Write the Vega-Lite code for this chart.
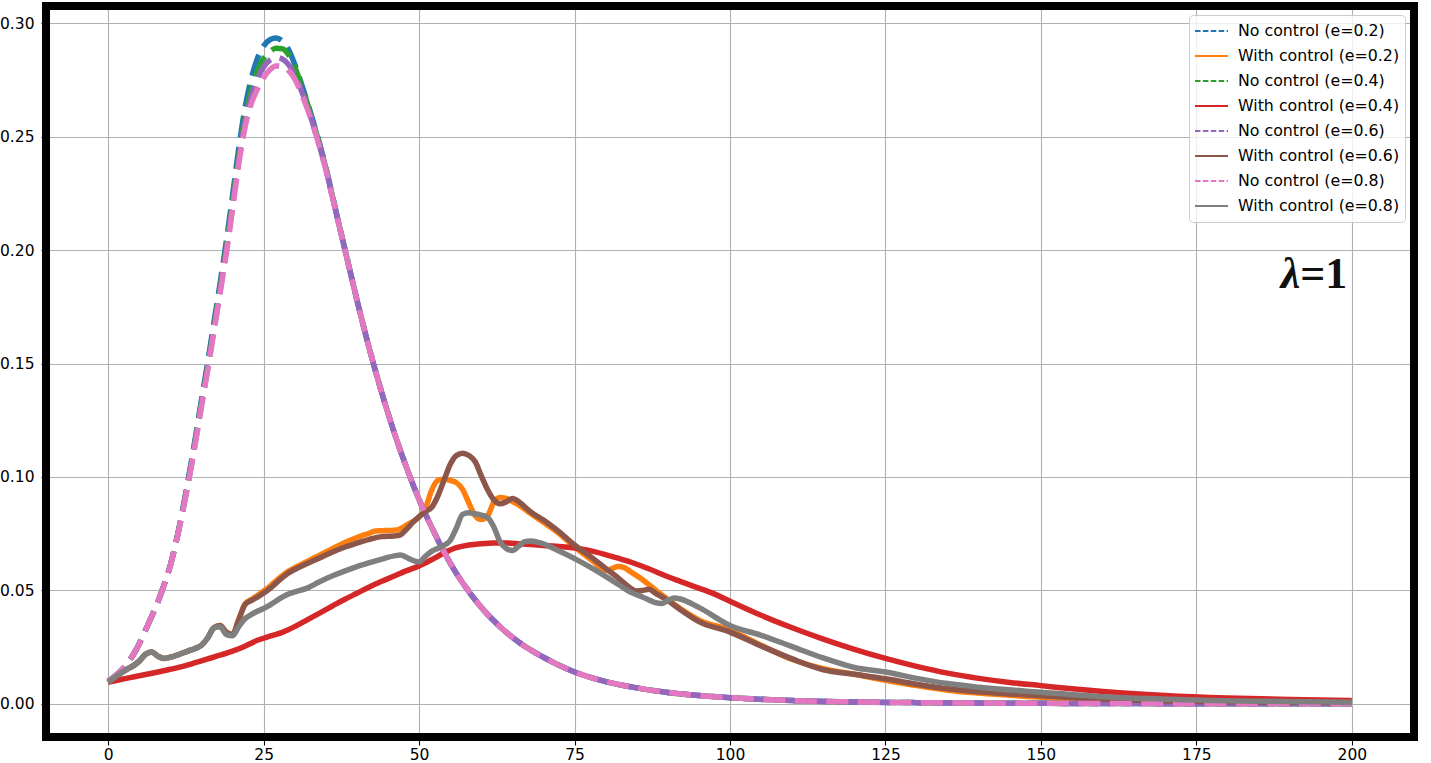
{
"$schema": "https://vega.github.io/schema/vega-lite/v6.json",
"width": 1368, "height": 731,
"autosize": {"type": "none"},
"padding": {"left": 46, "top": 6, "right": 17, "bottom": 26},
"background": "white",
"config": {
  "view": {"stroke": "#000000", "strokeWidth": 8},
  "style": {"cell": {"strokeForeground": true}},
  "font": "DejaVu Sans",
  "axis": {"labelFont": "DejaVu Sans", "labelFontSize": 15.5, "labelColor": "#000000", "tickColor": "#000000", "tickWidth": 1.1, "domain": false, "grid": true, "gridColor": "#b0b0b0", "gridWidth": 1.1},
  "axisX": {"tickSize": 8, "labelPadding": 2},
  "axisY": {"tickSize": 5, "labelPadding": 7}
},
"layer": [
{
"data": {"values": [
{"s":"No control (e=0.2)","t":0,"v":0.0100},{"s":"No control (e=0.2)","t":1,"v":0.0120},{"s":"No control (e=0.2)","t":2,"v":0.0145},{"s":"No control (e=0.2)","t":3,"v":0.0175},{"s":"No control (e=0.2)","t":4,"v":0.0215},{"s":"No control (e=0.2)","t":5,"v":0.0265},{"s":"No control (e=0.2)","t":6,"v":0.0325},{"s":"No control (e=0.2)","t":7,"v":0.0385},{"s":"No control (e=0.2)","t":8,"v":0.0450},{"s":"No control (e=0.2)","t":9,"v":0.0525},{"s":"No control (e=0.2)","t":10,"v":0.0612},{"s":"No control (e=0.2)","t":11,"v":0.0725},{"s":"No control (e=0.2)","t":12,"v":0.0860},{"s":"No control (e=0.2)","t":13,"v":0.1010},{"s":"No control (e=0.2)","t":14,"v":0.1170},{"s":"No control (e=0.2)","t":15,"v":0.1340},{"s":"No control (e=0.2)","t":16,"v":0.1505},{"s":"No control (e=0.2)","t":17,"v":0.1680},{"s":"No control (e=0.2)","t":18,"v":0.1855},{"s":"No control (e=0.2)","t":19,"v":0.2040},{"s":"No control (e=0.2)","t":20,"v":0.2240},{"s":"No control (e=0.2)","t":21,"v":0.2450},{"s":"No control (e=0.2)","t":22,"v":0.2625},{"s":"No control (e=0.2)","t":23,"v":0.2755},{"s":"No control (e=0.2)","t":24,"v":0.2845},{"s":"No control (e=0.2)","t":25,"v":0.2900},{"s":"No control (e=0.2)","t":26,"v":0.2928},{"s":"No control (e=0.2)","t":27,"v":0.2935},{"s":"No control (e=0.2)","t":28,"v":0.2922},{"s":"No control (e=0.2)","t":29,"v":0.2885},{"s":"No control (e=0.2)","t":30,"v":0.2820},{"s":"No control (e=0.2)","t":31,"v":0.2740},{"s":"No control (e=0.2)","t":32,"v":0.2655},{"s":"No control (e=0.2)","t":33,"v":0.2565},{"s":"No control (e=0.2)","t":34,"v":0.2470},{"s":"No control (e=0.2)","t":35,"v":0.2365},{"s":"No control (e=0.2)","t":36,"v":0.2248},{"s":"No control (e=0.2)","t":37,"v":0.2128},{"s":"No control (e=0.2)","t":38,"v":0.2012},{"s":"No control (e=0.2)","t":39,"v":0.1896},{"s":"No control (e=0.2)","t":40,"v":0.1781},{"s":"No control (e=0.2)","t":42,"v":0.1566},{"s":"No control (e=0.2)","t":44,"v":0.1371},{"s":"No control (e=0.2)","t":46,"v":0.1196},{"s":"No control (e=0.2)","t":48,"v":0.1040},{"s":"No control (e=0.2)","t":50,"v":0.0900},{"s":"No control (e=0.2)","t":52,"v":0.0780},{"s":"No control (e=0.2)","t":54,"v":0.0670},{"s":"No control (e=0.2)","t":56,"v":0.0575},{"s":"No control (e=0.2)","t":58,"v":0.0495},{"s":"No control (e=0.2)","t":60,"v":0.0425},{"s":"No control (e=0.2)","t":63,"v":0.0340},{"s":"No control (e=0.2)","t":66,"v":0.0272},{"s":"No control (e=0.2)","t":70,"v":0.0205},{"s":"No control (e=0.2)","t":75,"v":0.0140},{"s":"No control (e=0.2)","t":80,"v":0.0098},{"s":"No control (e=0.2)","t":85,"v":0.0070},{"s":"No control (e=0.2)","t":90,"v":0.0050},{"s":"No control (e=0.2)","t":95,"v":0.0036},{"s":"No control (e=0.2)","t":100,"v":0.0027},{"s":"No control (e=0.2)","t":110,"v":0.0014},{"s":"No control (e=0.2)","t":120,"v":0.0008},{"s":"No control (e=0.2)","t":130,"v":0.0005},{"s":"No control (e=0.2)","t":140,"v":0.0003},{"s":"No control (e=0.2)","t":150,"v":0.0002},{"s":"No control (e=0.2)","t":160,"v":0.0001},{"s":"No control (e=0.2)","t":175,"v":0.00005},{"s":"No control (e=0.2)","t":200,"v":0.00002},

{"s":"With control (e=0.2)","t":0,"v":0.0095},{"s":"With control (e=0.2)","t":1,"v":0.0115},{"s":"With control (e=0.2)","t":2,"v":0.0135},{"s":"With control (e=0.2)","t":3,"v":0.0152},{"s":"With control (e=0.2)","t":4,"v":0.0167},{"s":"With control (e=0.2)","t":5,"v":0.0188},{"s":"With control (e=0.2)","t":6,"v":0.0218},{"s":"With control (e=0.2)","t":7,"v":0.0228},{"s":"With control (e=0.2)","t":8,"v":0.0210},{"s":"With control (e=0.2)","t":9,"v":0.0200},{"s":"With control (e=0.2)","t":10,"v":0.0205},{"s":"With control (e=0.2)","t":11,"v":0.0214},{"s":"With control (e=0.2)","t":12,"v":0.0224},{"s":"With control (e=0.2)","t":13,"v":0.0234},{"s":"With control (e=0.2)","t":14,"v":0.0244},{"s":"With control (e=0.2)","t":15,"v":0.0258},{"s":"With control (e=0.2)","t":16,"v":0.0290},{"s":"With control (e=0.2)","t":17,"v":0.0335},{"s":"With control (e=0.2)","t":18,"v":0.0345},{"s":"With control (e=0.2)","t":19,"v":0.0315},{"s":"With control (e=0.2)","t":20,"v":0.0305},{"s":"With control (e=0.2)","t":21,"v":0.0372},{"s":"With control (e=0.2)","t":22,"v":0.0440},{"s":"With control (e=0.2)","t":23,"v":0.0460},{"s":"With control (e=0.2)","t":24,"v":0.0477},{"s":"With control (e=0.2)","t":25,"v":0.0497},{"s":"With control (e=0.2)","t":26,"v":0.0518},{"s":"With control (e=0.2)","t":27,"v":0.0542},{"s":"With control (e=0.2)","t":28,"v":0.0565},{"s":"With control (e=0.2)","t":29,"v":0.0585},{"s":"With control (e=0.2)","t":30,"v":0.0600},{"s":"With control (e=0.2)","t":32,"v":0.0628},{"s":"With control (e=0.2)","t":34,"v":0.0655},{"s":"With control (e=0.2)","t":36,"v":0.0683},{"s":"With control (e=0.2)","t":38,"v":0.0710},{"s":"With control (e=0.2)","t":40,"v":0.0733},{"s":"With control (e=0.2)","t":42,"v":0.0752},{"s":"With control (e=0.2)","t":43,"v":0.0762},{"s":"With control (e=0.2)","t":44,"v":0.0763},{"s":"With control (e=0.2)","t":46,"v":0.0765},{"s":"With control (e=0.2)","t":47,"v":0.0772},{"s":"With control (e=0.2)","t":48,"v":0.0788},{"s":"With control (e=0.2)","t":49,"v":0.0803},{"s":"With control (e=0.2)","t":50,"v":0.0823},{"s":"With control (e=0.2)","t":51,"v":0.0860},{"s":"With control (e=0.2)","t":52,"v":0.0940},{"s":"With control (e=0.2)","t":53,"v":0.0985},{"s":"With control (e=0.2)","t":54,"v":0.0990},{"s":"With control (e=0.2)","t":55,"v":0.0985},{"s":"With control (e=0.2)","t":56,"v":0.0975},{"s":"With control (e=0.2)","t":57,"v":0.0945},{"s":"With control (e=0.2)","t":58,"v":0.0885},{"s":"With control (e=0.2)","t":59,"v":0.0830},{"s":"With control (e=0.2)","t":60,"v":0.0812},{"s":"With control (e=0.2)","t":61,"v":0.0828},{"s":"With control (e=0.2)","t":62,"v":0.0888},{"s":"With control (e=0.2)","t":63,"v":0.0910},{"s":"With control (e=0.2)","t":64,"v":0.0905},{"s":"With control (e=0.2)","t":66,"v":0.0877},{"s":"With control (e=0.2)","t":68,"v":0.0838},{"s":"With control (e=0.2)","t":70,"v":0.0800},{"s":"With control (e=0.2)","t":72,"v":0.0762},{"s":"With control (e=0.2)","t":75,"v":0.0692},{"s":"With control (e=0.2)","t":78,"v":0.0628},{"s":"With control (e=0.2)","t":80,"v":0.0588},{"s":"With control (e=0.2)","t":81,"v":0.0596},{"s":"With control (e=0.2)","t":82,"v":0.0605},{"s":"With control (e=0.2)","t":83,"v":0.0600},{"s":"With control (e=0.2)","t":84,"v":0.0582},{"s":"With control (e=0.2)","t":86,"v":0.0546},{"s":"With control (e=0.2)","t":88,"v":0.0502},{"s":"With control (e=0.2)","t":90,"v":0.0460},{"s":"With control (e=0.2)","t":92,"v":0.0420},{"s":"With control (e=0.2)","t":95,"v":0.0370},{"s":"With control (e=0.2)","t":100,"v":0.0324},{"s":"With control (e=0.2)","t":105,"v":0.0258},{"s":"With control (e=0.2)","t":110,"v":0.0195},{"s":"With control (e=0.2)","t":115,"v":0.0155},{"s":"With control (e=0.2)","t":120,"v":0.0130},{"s":"With control (e=0.2)","t":125,"v":0.0104},{"s":"With control (e=0.2)","t":130,"v":0.0080},{"s":"With control (e=0.2)","t":135,"v":0.0060},{"s":"With control (e=0.2)","t":140,"v":0.0047},{"s":"With control (e=0.2)","t":150,"v":0.0029},{"s":"With control (e=0.2)","t":160,"v":0.0016},{"s":"With control (e=0.2)","t":175,"v":0.0008},{"s":"With control (e=0.2)","t":200,"v":0.0003},

{"s":"No control (e=0.4)","t":0,"v":0.0100},{"s":"No control (e=0.4)","t":1,"v":0.0120},{"s":"No control (e=0.4)","t":2,"v":0.0145},{"s":"No control (e=0.4)","t":3,"v":0.0175},{"s":"No control (e=0.4)","t":4,"v":0.0215},{"s":"No control (e=0.4)","t":5,"v":0.0265},{"s":"No control (e=0.4)","t":6,"v":0.0325},{"s":"No control (e=0.4)","t":7,"v":0.0385},{"s":"No control (e=0.4)","t":8,"v":0.0450},{"s":"No control (e=0.4)","t":9,"v":0.0525},{"s":"No control (e=0.4)","t":10,"v":0.0611},{"s":"No control (e=0.4)","t":11,"v":0.0723},{"s":"No control (e=0.4)","t":12,"v":0.0856},{"s":"No control (e=0.4)","t":13,"v":0.1000},{"s":"No control (e=0.4)","t":14,"v":0.1160},{"s":"No control (e=0.4)","t":15,"v":0.1328},{"s":"No control (e=0.4)","t":16,"v":0.1490},{"s":"No control (e=0.4)","t":17,"v":0.1662},{"s":"No control (e=0.4)","t":18,"v":0.1835},{"s":"No control (e=0.4)","t":19,"v":0.2015},{"s":"No control (e=0.4)","t":20,"v":0.2212},{"s":"No control (e=0.4)","t":21,"v":0.2418},{"s":"No control (e=0.4)","t":22,"v":0.2585},{"s":"No control (e=0.4)","t":23,"v":0.2705},{"s":"No control (e=0.4)","t":24,"v":0.2790},{"s":"No control (e=0.4)","t":25,"v":0.2845},{"s":"No control (e=0.4)","t":26,"v":0.2875},{"s":"No control (e=0.4)","t":27,"v":0.2890},{"s":"No control (e=0.4)","t":28,"v":0.2888},{"s":"No control (e=0.4)","t":29,"v":0.2862},{"s":"No control (e=0.4)","t":30,"v":0.2808},{"s":"No control (e=0.4)","t":31,"v":0.2732},{"s":"No control (e=0.4)","t":32,"v":0.2650},{"s":"No control (e=0.4)","t":33,"v":0.2560},{"s":"No control (e=0.4)","t":34,"v":0.2465},{"s":"No control (e=0.4)","t":35,"v":0.2362},{"s":"No control (e=0.4)","t":36,"v":0.2245},{"s":"No control (e=0.4)","t":37,"v":0.2127},{"s":"No control (e=0.4)","t":38,"v":0.2011},{"s":"No control (e=0.4)","t":39,"v":0.1896},{"s":"No control (e=0.4)","t":40,"v":0.1781},{"s":"No control (e=0.4)","t":42,"v":0.1566},{"s":"No control (e=0.4)","t":44,"v":0.1371},{"s":"No control (e=0.4)","t":46,"v":0.1196},{"s":"No control (e=0.4)","t":48,"v":0.1040},{"s":"No control (e=0.4)","t":50,"v":0.0900},{"s":"No control (e=0.4)","t":52,"v":0.0780},{"s":"No control (e=0.4)","t":54,"v":0.0670},{"s":"No control (e=0.4)","t":56,"v":0.0575},{"s":"No control (e=0.4)","t":58,"v":0.0495},{"s":"No control (e=0.4)","t":60,"v":0.0425},{"s":"No control (e=0.4)","t":63,"v":0.0340},{"s":"No control (e=0.4)","t":66,"v":0.0272},{"s":"No control (e=0.4)","t":70,"v":0.0205},{"s":"No control (e=0.4)","t":75,"v":0.0140},{"s":"No control (e=0.4)","t":80,"v":0.0098},{"s":"No control (e=0.4)","t":85,"v":0.0070},{"s":"No control (e=0.4)","t":90,"v":0.0050},{"s":"No control (e=0.4)","t":95,"v":0.0036},{"s":"No control (e=0.4)","t":100,"v":0.0027},{"s":"No control (e=0.4)","t":110,"v":0.0014},{"s":"No control (e=0.4)","t":120,"v":0.0008},{"s":"No control (e=0.4)","t":130,"v":0.0005},{"s":"No control (e=0.4)","t":140,"v":0.0003},{"s":"No control (e=0.4)","t":150,"v":0.0002},{"s":"No control (e=0.4)","t":160,"v":0.0001},{"s":"No control (e=0.4)","t":175,"v":0.00005},{"s":"No control (e=0.4)","t":200,"v":0.00002},

{"s":"With control (e=0.4)","t":0,"v":0.0095},{"s":"With control (e=0.4)","t":2,"v":0.0107},{"s":"With control (e=0.4)","t":4,"v":0.0118},{"s":"With control (e=0.4)","t":6,"v":0.0129},{"s":"With control (e=0.4)","t":8,"v":0.0140},{"s":"With control (e=0.4)","t":10,"v":0.0152},{"s":"With control (e=0.4)","t":12,"v":0.0165},{"s":"With control (e=0.4)","t":14,"v":0.0181},{"s":"With control (e=0.4)","t":16,"v":0.0198},{"s":"With control (e=0.4)","t":18,"v":0.0214},{"s":"With control (e=0.4)","t":20,"v":0.0232},{"s":"With control (e=0.4)","t":22,"v":0.0254},{"s":"With control (e=0.4)","t":24,"v":0.0280},{"s":"With control (e=0.4)","t":26,"v":0.0298},{"s":"With control (e=0.4)","t":28,"v":0.0315},{"s":"With control (e=0.4)","t":30,"v":0.0340},{"s":"With control (e=0.4)","t":32,"v":0.0370},{"s":"With control (e=0.4)","t":34,"v":0.0400},{"s":"With control (e=0.4)","t":36,"v":0.0430},{"s":"With control (e=0.4)","t":38,"v":0.0460},{"s":"With control (e=0.4)","t":40,"v":0.0487},{"s":"With control (e=0.4)","t":42,"v":0.0515},{"s":"With control (e=0.4)","t":44,"v":0.0540},{"s":"With control (e=0.4)","t":46,"v":0.0563},{"s":"With control (e=0.4)","t":48,"v":0.0587},{"s":"With control (e=0.4)","t":50,"v":0.0608},{"s":"With control (e=0.4)","t":52,"v":0.0635},{"s":"With control (e=0.4)","t":54,"v":0.0665},{"s":"With control (e=0.4)","t":56,"v":0.0688},{"s":"With control (e=0.4)","t":58,"v":0.0700},{"s":"With control (e=0.4)","t":60,"v":0.0706},{"s":"With control (e=0.4)","t":62,"v":0.0709},{"s":"With control (e=0.4)","t":64,"v":0.0709},{"s":"With control (e=0.4)","t":66,"v":0.0706},{"s":"With control (e=0.4)","t":68,"v":0.0702},{"s":"With control (e=0.4)","t":70,"v":0.0698},{"s":"With control (e=0.4)","t":72,"v":0.0695},{"s":"With control (e=0.4)","t":74,"v":0.0690},{"s":"With control (e=0.4)","t":76,"v":0.0683},{"s":"With control (e=0.4)","t":78,"v":0.0672},{"s":"With control (e=0.4)","t":80,"v":0.0658},{"s":"With control (e=0.4)","t":82,"v":0.0642},{"s":"With control (e=0.4)","t":84,"v":0.0625},{"s":"With control (e=0.4)","t":86,"v":0.0605},{"s":"With control (e=0.4)","t":88,"v":0.0583},{"s":"With control (e=0.4)","t":90,"v":0.0560},{"s":"With control (e=0.4)","t":92,"v":0.0540},{"s":"With control (e=0.4)","t":95,"v":0.0510},{"s":"With control (e=0.4)","t":98,"v":0.0478},{"s":"With control (e=0.4)","t":100,"v":0.0452},{"s":"With control (e=0.4)","t":105,"v":0.0390},{"s":"With control (e=0.4)","t":110,"v":0.0335},{"s":"With control (e=0.4)","t":115,"v":0.0285},{"s":"With control (e=0.4)","t":120,"v":0.0240},{"s":"With control (e=0.4)","t":125,"v":0.0200},{"s":"With control (e=0.4)","t":130,"v":0.0165},{"s":"With control (e=0.4)","t":135,"v":0.0135},{"s":"With control (e=0.4)","t":140,"v":0.0112},{"s":"With control (e=0.4)","t":145,"v":0.0094},{"s":"With control (e=0.4)","t":150,"v":0.0080},{"s":"With control (e=0.4)","t":155,"v":0.0066},{"s":"With control (e=0.4)","t":160,"v":0.0054},{"s":"With control (e=0.4)","t":170,"v":0.0037},{"s":"With control (e=0.4)","t":180,"v":0.0026},{"s":"With control (e=0.4)","t":190,"v":0.0019},{"s":"With control (e=0.4)","t":200,"v":0.0014},

{"s":"No control (e=0.6)","t":0,"v":0.0100},{"s":"No control (e=0.6)","t":1,"v":0.0120},{"s":"No control (e=0.6)","t":2,"v":0.0145},{"s":"No control (e=0.6)","t":3,"v":0.0175},{"s":"No control (e=0.6)","t":4,"v":0.0215},{"s":"No control (e=0.6)","t":5,"v":0.0265},{"s":"No control (e=0.6)","t":6,"v":0.0325},{"s":"No control (e=0.6)","t":7,"v":0.0385},{"s":"No control (e=0.6)","t":8,"v":0.0450},{"s":"No control (e=0.6)","t":9,"v":0.0525},{"s":"No control (e=0.6)","t":10,"v":0.0610},{"s":"No control (e=0.6)","t":11,"v":0.0721},{"s":"No control (e=0.6)","t":12,"v":0.0853},{"s":"No control (e=0.6)","t":13,"v":0.0995},{"s":"No control (e=0.6)","t":14,"v":0.1152},{"s":"No control (e=0.6)","t":15,"v":0.1318},{"s":"No control (e=0.6)","t":16,"v":0.1480},{"s":"No control (e=0.6)","t":17,"v":0.1650},{"s":"No control (e=0.6)","t":18,"v":0.1822},{"s":"No control (e=0.6)","t":19,"v":0.2000},{"s":"No control (e=0.6)","t":20,"v":0.2195},{"s":"No control (e=0.6)","t":21,"v":0.2398},{"s":"No control (e=0.6)","t":22,"v":0.2562},{"s":"No control (e=0.6)","t":23,"v":0.2675},{"s":"No control (e=0.6)","t":24,"v":0.2755},{"s":"No control (e=0.6)","t":25,"v":0.2808},{"s":"No control (e=0.6)","t":26,"v":0.2838},{"s":"No control (e=0.6)","t":27,"v":0.2850},{"s":"No control (e=0.6)","t":28,"v":0.2843},{"s":"No control (e=0.6)","t":29,"v":0.2818},{"s":"No control (e=0.6)","t":30,"v":0.2772},{"s":"No control (e=0.6)","t":31,"v":0.2708},{"s":"No control (e=0.6)","t":32,"v":0.2635},{"s":"No control (e=0.6)","t":33,"v":0.2550},{"s":"No control (e=0.6)","t":34,"v":0.2458},{"s":"No control (e=0.6)","t":35,"v":0.2358},{"s":"No control (e=0.6)","t":36,"v":0.2242},{"s":"No control (e=0.6)","t":37,"v":0.2126},{"s":"No control (e=0.6)","t":38,"v":0.2010},{"s":"No control (e=0.6)","t":39,"v":0.1895},{"s":"No control (e=0.6)","t":40,"v":0.1780},{"s":"No control (e=0.6)","t":42,"v":0.1565},{"s":"No control (e=0.6)","t":44,"v":0.1370},{"s":"No control (e=0.6)","t":46,"v":0.1195},{"s":"No control (e=0.6)","t":48,"v":0.1040},{"s":"No control (e=0.6)","t":50,"v":0.0900},{"s":"No control (e=0.6)","t":52,"v":0.0780},{"s":"No control (e=0.6)","t":54,"v":0.0670},{"s":"No control (e=0.6)","t":56,"v":0.0575},{"s":"No control (e=0.6)","t":58,"v":0.0495},{"s":"No control (e=0.6)","t":60,"v":0.0425},{"s":"No control (e=0.6)","t":63,"v":0.0340},{"s":"No control (e=0.6)","t":66,"v":0.0272},{"s":"No control (e=0.6)","t":70,"v":0.0205},{"s":"No control (e=0.6)","t":75,"v":0.0140},{"s":"No control (e=0.6)","t":80,"v":0.0098},{"s":"No control (e=0.6)","t":85,"v":0.0070},{"s":"No control (e=0.6)","t":90,"v":0.0050},{"s":"No control (e=0.6)","t":95,"v":0.0036},{"s":"No control (e=0.6)","t":100,"v":0.0027},{"s":"No control (e=0.6)","t":110,"v":0.0014},{"s":"No control (e=0.6)","t":120,"v":0.0008},{"s":"No control (e=0.6)","t":130,"v":0.0005},{"s":"No control (e=0.6)","t":140,"v":0.0003},{"s":"No control (e=0.6)","t":150,"v":0.0002},{"s":"No control (e=0.6)","t":160,"v":0.0001},{"s":"No control (e=0.6)","t":175,"v":0.00005},{"s":"No control (e=0.6)","t":200,"v":0.00002},

{"s":"With control (e=0.6)","t":0,"v":0.0095},{"s":"With control (e=0.6)","t":1,"v":0.0115},{"s":"With control (e=0.6)","t":2,"v":0.0135},{"s":"With control (e=0.6)","t":3,"v":0.0152},{"s":"With control (e=0.6)","t":4,"v":0.0167},{"s":"With control (e=0.6)","t":5,"v":0.0188},{"s":"With control (e=0.6)","t":6,"v":0.0218},{"s":"With control (e=0.6)","t":7,"v":0.0228},{"s":"With control (e=0.6)","t":8,"v":0.0210},{"s":"With control (e=0.6)","t":9,"v":0.0200},{"s":"With control (e=0.6)","t":10,"v":0.0205},{"s":"With control (e=0.6)","t":11,"v":0.0214},{"s":"With control (e=0.6)","t":12,"v":0.0224},{"s":"With control (e=0.6)","t":13,"v":0.0234},{"s":"With control (e=0.6)","t":14,"v":0.0244},{"s":"With control (e=0.6)","t":15,"v":0.0258},{"s":"With control (e=0.6)","t":16,"v":0.0290},{"s":"With control (e=0.6)","t":17,"v":0.0335},{"s":"With control (e=0.6)","t":18,"v":0.0345},{"s":"With control (e=0.6)","t":19,"v":0.0315},{"s":"With control (e=0.6)","t":20,"v":0.0305},{"s":"With control (e=0.6)","t":21,"v":0.0370},{"s":"With control (e=0.6)","t":22,"v":0.0437},{"s":"With control (e=0.6)","t":23,"v":0.0455},{"s":"With control (e=0.6)","t":24,"v":0.0470},{"s":"With control (e=0.6)","t":25,"v":0.0488},{"s":"With control (e=0.6)","t":26,"v":0.0508},{"s":"With control (e=0.6)","t":27,"v":0.0532},{"s":"With control (e=0.6)","t":28,"v":0.0556},{"s":"With control (e=0.6)","t":29,"v":0.0577},{"s":"With control (e=0.6)","t":30,"v":0.0592},{"s":"With control (e=0.6)","t":32,"v":0.0618},{"s":"With control (e=0.6)","t":34,"v":0.0643},{"s":"With control (e=0.6)","t":36,"v":0.0668},{"s":"With control (e=0.6)","t":38,"v":0.0690},{"s":"With control (e=0.6)","t":40,"v":0.0708},{"s":"With control (e=0.6)","t":42,"v":0.0725},{"s":"With control (e=0.6)","t":44,"v":0.0737},{"s":"With control (e=0.6)","t":46,"v":0.0740},{"s":"With control (e=0.6)","t":47,"v":0.0745},{"s":"With control (e=0.6)","t":48,"v":0.0770},{"s":"With control (e=0.6)","t":49,"v":0.0800},{"s":"With control (e=0.6)","t":50,"v":0.0825},{"s":"With control (e=0.6)","t":51,"v":0.0848},{"s":"With control (e=0.6)","t":52,"v":0.0865},{"s":"With control (e=0.6)","t":53,"v":0.0915},{"s":"With control (e=0.6)","t":54,"v":0.0985},{"s":"With control (e=0.6)","t":55,"v":0.1055},{"s":"With control (e=0.6)","t":56,"v":0.1095},{"s":"With control (e=0.6)","t":57,"v":0.1105},{"s":"With control (e=0.6)","t":58,"v":0.1095},{"s":"With control (e=0.6)","t":59,"v":0.1068},{"s":"With control (e=0.6)","t":60,"v":0.1005},{"s":"With control (e=0.6)","t":61,"v":0.0945},{"s":"With control (e=0.6)","t":62,"v":0.0900},{"s":"With control (e=0.6)","t":63,"v":0.0882},{"s":"With control (e=0.6)","t":64,"v":0.0890},{"s":"With control (e=0.6)","t":65,"v":0.0905},{"s":"With control (e=0.6)","t":66,"v":0.0892},{"s":"With control (e=0.6)","t":67,"v":0.0868},{"s":"With control (e=0.6)","t":68,"v":0.0845},{"s":"With control (e=0.6)","t":70,"v":0.0810},{"s":"With control (e=0.6)","t":72,"v":0.0770},{"s":"With control (e=0.6)","t":75,"v":0.0700},{"s":"With control (e=0.6)","t":78,"v":0.0640},{"s":"With control (e=0.6)","t":80,"v":0.0597},{"s":"With control (e=0.6)","t":82,"v":0.0555},{"s":"With control (e=0.6)","t":84,"v":0.0510},{"s":"With control (e=0.6)","t":85,"v":0.0497},{"s":"With control (e=0.6)","t":86,"v":0.0500},{"s":"With control (e=0.6)","t":87,"v":0.0505},{"s":"With control (e=0.6)","t":88,"v":0.0488},{"s":"With control (e=0.6)","t":90,"v":0.0455},{"s":"With control (e=0.6)","t":92,"v":0.0415},{"s":"With control (e=0.6)","t":95,"v":0.0362},{"s":"With control (e=0.6)","t":100,"v":0.0316},{"s":"With control (e=0.6)","t":105,"v":0.0255},{"s":"With control (e=0.6)","t":110,"v":0.0198},{"s":"With control (e=0.6)","t":115,"v":0.0150},{"s":"With control (e=0.6)","t":120,"v":0.0130},{"s":"With control (e=0.6)","t":125,"v":0.0110},{"s":"With control (e=0.6)","t":130,"v":0.0086},{"s":"With control (e=0.6)","t":135,"v":0.0066},{"s":"With control (e=0.6)","t":140,"v":0.0053},{"s":"With control (e=0.6)","t":150,"v":0.0035},{"s":"With control (e=0.6)","t":160,"v":0.0020},{"s":"With control (e=0.6)","t":175,"v":0.0010},{"s":"With control (e=0.6)","t":200,"v":0.0004},

{"s":"No control (e=0.8)","t":0,"v":0.0100},{"s":"No control (e=0.8)","t":1,"v":0.0120},{"s":"No control (e=0.8)","t":2,"v":0.0145},{"s":"No control (e=0.8)","t":3,"v":0.0175},{"s":"No control (e=0.8)","t":4,"v":0.0215},{"s":"No control (e=0.8)","t":5,"v":0.0265},{"s":"No control (e=0.8)","t":6,"v":0.0325},{"s":"No control (e=0.8)","t":7,"v":0.0385},{"s":"No control (e=0.8)","t":8,"v":0.0450},{"s":"No control (e=0.8)","t":9,"v":0.0525},{"s":"No control (e=0.8)","t":10,"v":0.0610},{"s":"No control (e=0.8)","t":11,"v":0.0720},{"s":"No control (e=0.8)","t":12,"v":0.0850},{"s":"No control (e=0.8)","t":13,"v":0.0990},{"s":"No control (e=0.8)","t":14,"v":0.1145},{"s":"No control (e=0.8)","t":15,"v":0.1310},{"s":"No control (e=0.8)","t":16,"v":0.1470},{"s":"No control (e=0.8)","t":17,"v":0.1640},{"s":"No control (e=0.8)","t":18,"v":0.1810},{"s":"No control (e=0.8)","t":19,"v":0.1985},{"s":"No control (e=0.8)","t":20,"v":0.2180},{"s":"No control (e=0.8)","t":21,"v":0.2380},{"s":"No control (e=0.8)","t":22,"v":0.2540},{"s":"No control (e=0.8)","t":23,"v":0.2645},{"s":"No control (e=0.8)","t":24,"v":0.2710},{"s":"No control (e=0.8)","t":25,"v":0.2760},{"s":"No control (e=0.8)","t":26,"v":0.2795},{"s":"No control (e=0.8)","t":27,"v":0.2812},{"s":"No control (e=0.8)","t":28,"v":0.2810},{"s":"No control (e=0.8)","t":29,"v":0.2792},{"s":"No control (e=0.8)","t":30,"v":0.2755},{"s":"No control (e=0.8)","t":31,"v":0.2695},{"s":"No control (e=0.8)","t":32,"v":0.2625},{"s":"No control (e=0.8)","t":33,"v":0.2545},{"s":"No control (e=0.8)","t":34,"v":0.2455},{"s":"No control (e=0.8)","t":35,"v":0.2355},{"s":"No control (e=0.8)","t":36,"v":0.2240},{"s":"No control (e=0.8)","t":37,"v":0.2125},{"s":"No control (e=0.8)","t":38,"v":0.2010},{"s":"No control (e=0.8)","t":39,"v":0.1895},{"s":"No control (e=0.8)","t":40,"v":0.1780},{"s":"No control (e=0.8)","t":42,"v":0.1565},{"s":"No control (e=0.8)","t":44,"v":0.1370},{"s":"No control (e=0.8)","t":46,"v":0.1195},{"s":"No control (e=0.8)","t":48,"v":0.1040},{"s":"No control (e=0.8)","t":50,"v":0.0900},{"s":"No control (e=0.8)","t":52,"v":0.0780},{"s":"No control (e=0.8)","t":54,"v":0.0670},{"s":"No control (e=0.8)","t":56,"v":0.0575},{"s":"No control (e=0.8)","t":58,"v":0.0495},{"s":"No control (e=0.8)","t":60,"v":0.0425},{"s":"No control (e=0.8)","t":63,"v":0.0340},{"s":"No control (e=0.8)","t":66,"v":0.0272},{"s":"No control (e=0.8)","t":70,"v":0.0205},{"s":"No control (e=0.8)","t":75,"v":0.0140},{"s":"No control (e=0.8)","t":80,"v":0.0098},{"s":"No control (e=0.8)","t":85,"v":0.0070},{"s":"No control (e=0.8)","t":90,"v":0.0050},{"s":"No control (e=0.8)","t":95,"v":0.0036},{"s":"No control (e=0.8)","t":100,"v":0.0027},{"s":"No control (e=0.8)","t":110,"v":0.0014},{"s":"No control (e=0.8)","t":120,"v":0.0008},{"s":"No control (e=0.8)","t":130,"v":0.0005},{"s":"No control (e=0.8)","t":140,"v":0.0003},{"s":"No control (e=0.8)","t":150,"v":0.0002},{"s":"No control (e=0.8)","t":160,"v":0.0001},{"s":"No control (e=0.8)","t":175,"v":0.00005},{"s":"No control (e=0.8)","t":200,"v":0.00002},

{"s":"With control (e=0.8)","t":0,"v":0.0095},{"s":"With control (e=0.8)","t":1,"v":0.0115},{"s":"With control (e=0.8)","t":2,"v":0.0135},{"s":"With control (e=0.8)","t":3,"v":0.0152},{"s":"With control (e=0.8)","t":4,"v":0.0167},{"s":"With control (e=0.8)","t":5,"v":0.0188},{"s":"With control (e=0.8)","t":6,"v":0.0218},{"s":"With control (e=0.8)","t":7,"v":0.0228},{"s":"With control (e=0.8)","t":8,"v":0.0210},{"s":"With control (e=0.8)","t":9,"v":0.0200},{"s":"With control (e=0.8)","t":10,"v":0.0205},{"s":"With control (e=0.8)","t":11,"v":0.0214},{"s":"With control (e=0.8)","t":12,"v":0.0224},{"s":"With control (e=0.8)","t":13,"v":0.0234},{"s":"With control (e=0.8)","t":14,"v":0.0244},{"s":"With control (e=0.8)","t":15,"v":0.0258},{"s":"With control (e=0.8)","t":16,"v":0.0290},{"s":"With control (e=0.8)","t":17,"v":0.0335},{"s":"With control (e=0.8)","t":18,"v":0.0340},{"s":"With control (e=0.8)","t":19,"v":0.0305},{"s":"With control (e=0.8)","t":20,"v":0.0300},{"s":"With control (e=0.8)","t":21,"v":0.0340},{"s":"With control (e=0.8)","t":22,"v":0.0375},{"s":"With control (e=0.8)","t":23,"v":0.0393},{"s":"With control (e=0.8)","t":24,"v":0.0408},{"s":"With control (e=0.8)","t":25,"v":0.0420},{"s":"With control (e=0.8)","t":26,"v":0.0435},{"s":"With control (e=0.8)","t":27,"v":0.0453},{"s":"With control (e=0.8)","t":28,"v":0.0470},{"s":"With control (e=0.8)","t":29,"v":0.0484},{"s":"With control (e=0.8)","t":30,"v":0.0493},{"s":"With control (e=0.8)","t":32,"v":0.0510},{"s":"With control (e=0.8)","t":34,"v":0.0538},{"s":"With control (e=0.8)","t":36,"v":0.0563},{"s":"With control (e=0.8)","t":38,"v":0.0585},{"s":"With control (e=0.8)","t":40,"v":0.0605},{"s":"With control (e=0.8)","t":42,"v":0.0622},{"s":"With control (e=0.8)","t":44,"v":0.0638},{"s":"With control (e=0.8)","t":46,"v":0.0652},{"s":"With control (e=0.8)","t":47,"v":0.0656},{"s":"With control (e=0.8)","t":48,"v":0.0645},{"s":"With control (e=0.8)","t":49,"v":0.0632},{"s":"With control (e=0.8)","t":50,"v":0.0625},{"s":"With control (e=0.8)","t":51,"v":0.0650},{"s":"With control (e=0.8)","t":52,"v":0.0672},{"s":"With control (e=0.8)","t":53,"v":0.0685},{"s":"With control (e=0.8)","t":54,"v":0.0698},{"s":"With control (e=0.8)","t":55,"v":0.0720},{"s":"With control (e=0.8)","t":56,"v":0.0775},{"s":"With control (e=0.8)","t":57,"v":0.0835},{"s":"With control (e=0.8)","t":58,"v":0.0842},{"s":"With control (e=0.8)","t":59,"v":0.0838},{"s":"With control (e=0.8)","t":60,"v":0.0832},{"s":"With control (e=0.8)","t":61,"v":0.0822},{"s":"With control (e=0.8)","t":62,"v":0.0780},{"s":"With control (e=0.8)","t":63,"v":0.0715},{"s":"With control (e=0.8)","t":64,"v":0.0685},{"s":"With control (e=0.8)","t":65,"v":0.0676},{"s":"With control (e=0.8)","t":66,"v":0.0695},{"s":"With control (e=0.8)","t":67,"v":0.0715},{"s":"With control (e=0.8)","t":68,"v":0.0718},{"s":"With control (e=0.8)","t":70,"v":0.0705},{"s":"With control (e=0.8)","t":72,"v":0.0680},{"s":"With control (e=0.8)","t":75,"v":0.0640},{"s":"With control (e=0.8)","t":78,"v":0.0595},{"s":"With control (e=0.8)","t":80,"v":0.0562},{"s":"With control (e=0.8)","t":82,"v":0.0527},{"s":"With control (e=0.8)","t":84,"v":0.0492},{"s":"With control (e=0.8)","t":86,"v":0.0470},{"s":"With control (e=0.8)","t":88,"v":0.0446},{"s":"With control (e=0.8)","t":89,"v":0.0442},{"s":"With control (e=0.8)","t":90,"v":0.0455},{"s":"With control (e=0.8)","t":91,"v":0.0466},{"s":"With control (e=0.8)","t":92,"v":0.0462},{"s":"With control (e=0.8)","t":95,"v":0.0425},{"s":"With control (e=0.8)","t":100,"v":0.0345},{"s":"With control (e=0.8)","t":105,"v":0.0302},{"s":"With control (e=0.8)","t":110,"v":0.0252},{"s":"With control (e=0.8)","t":115,"v":0.0202},{"s":"With control (e=0.8)","t":120,"v":0.0160},{"s":"With control (e=0.8)","t":125,"v":0.0140},{"s":"With control (e=0.8)","t":130,"v":0.0112},{"s":"With control (e=0.8)","t":135,"v":0.0089},{"s":"With control (e=0.8)","t":140,"v":0.0073},{"s":"With control (e=0.8)","t":150,"v":0.0051},{"s":"With control (e=0.8)","t":160,"v":0.0031},{"s":"With control (e=0.8)","t":175,"v":0.0017},{"s":"With control (e=0.8)","t":200,"v":0.0007}
]},
"encoding": {
  "x": {"field": "t", "type": "quantitative", "scale": {"domain": [-10, 210], "nice": false, "zero": false}, "axis": {"title": null, "values": [0, 25, 50, 75, 100, 125, 150, 175, 200], "format": "d"}},
  "y": {"field": "v", "type": "quantitative", "scale": {"domain": [-0.01465, 0.30765], "nice": false, "zero": false}, "axis": {"title": null, "values": [0, 0.05, 0.1, 0.15, 0.2, 0.25, 0.3], "format": ".2f"}},
  "color": {"field": "s", "type": "nominal",
    "scale": {"domain": ["No control (e=0.2)", "With control (e=0.2)", "No control (e=0.4)", "With control (e=0.4)", "No control (e=0.6)", "With control (e=0.6)", "No control (e=0.8)", "With control (e=0.8)"],
              "range": ["#1f77b4", "#ff7f0e", "#2ca02c", "#d62728", "#9467bd", "#8c564b", "#e377c2", "#7f7f7f"]},
    "legend": {"title": null, "orient": "top-right", "offset": 9, "symbolType": "stroke", "symbolSize": 1089, "symbolStrokeWidth": 2, "labelFont": "DejaVu Sans", "labelFontSize": 15.8, "labelColor": "#000000", "labelOffset": 9, "labelLimit": 400, "padding": 5, "rowPadding": 3, "clipHeight": 22, "fillColor": "rgba(255,255,255,0.8)", "strokeColor": "#cccccc", "cornerRadius": 4,
      "encode": {"symbols": {"update": {"strokeDash": {"signal": "indexof(datum.value, 'No') === 0 ? [5.5, 2.4] : [1, 0]"}}}}}}
},
"layer": [
  {"transform": [{"filter": {"field": "s", "equal": "No control (e=0.2)"}}], "mark": {"type": "line", "strokeWidth": 5.5, "strokeCap": "butt", "strokeJoin": "round", "interpolate": "monotone", "strokeDash": [22, 9.5]}},
  {"transform": [{"filter": {"field": "s", "equal": "With control (e=0.2)"}}], "mark": {"type": "line", "strokeWidth": 5.5, "strokeCap": "butt", "strokeJoin": "round", "interpolate": "monotone"}},
  {"transform": [{"filter": {"field": "s", "equal": "No control (e=0.4)"}}], "mark": {"type": "line", "strokeWidth": 5.5, "strokeCap": "butt", "strokeJoin": "round", "interpolate": "monotone", "strokeDash": [22, 9.5]}},
  {"transform": [{"filter": {"field": "s", "equal": "With control (e=0.4)"}}], "mark": {"type": "line", "strokeWidth": 5.5, "strokeCap": "butt", "strokeJoin": "round", "interpolate": "monotone"}},
  {"transform": [{"filter": {"field": "s", "equal": "No control (e=0.6)"}}], "mark": {"type": "line", "strokeWidth": 5.5, "strokeCap": "butt", "strokeJoin": "round", "interpolate": "monotone", "strokeDash": [22, 9.5]}},
  {"transform": [{"filter": {"field": "s", "equal": "With control (e=0.6)"}}], "mark": {"type": "line", "strokeWidth": 5.5, "strokeCap": "butt", "strokeJoin": "round", "interpolate": "monotone"}},
  {"transform": [{"filter": {"field": "s", "equal": "No control (e=0.8)"}}], "mark": {"type": "line", "strokeWidth": 5.5, "strokeCap": "butt", "strokeJoin": "round", "interpolate": "monotone", "strokeDash": [22, 9.5]}},
  {"transform": [{"filter": {"field": "s", "equal": "With control (e=0.8)"}}], "mark": {"type": "line", "strokeWidth": 5.5, "strokeCap": "butt", "strokeJoin": "round", "interpolate": "monotone"}}
]
},
{
"data": {"values": [{"t": 191.7, "v": 0.1832, "label": "λ"}]},
"mark": {"type": "text", "font": "Liberation Serif", "fontSize": 44, "fontWeight": "bold", "fontStyle": "italic", "align": "right", "baseline": "alphabetic", "color": "#111111"},
"encoding": {"x": {"field": "t", "type": "quantitative"}, "y": {"field": "v", "type": "quantitative"}, "text": {"field": "label"}}
},
{
"data": {"values": [{"t": 191.7, "v": 0.1832, "label": "=1"}]},
"mark": {"type": "text", "font": "Liberation Serif", "fontSize": 44, "fontWeight": "bold", "align": "left", "baseline": "alphabetic", "color": "#111111"},
"encoding": {"x": {"field": "t", "type": "quantitative"}, "y": {"field": "v", "type": "quantitative"}, "text": {"field": "label"}}
}
]
}
